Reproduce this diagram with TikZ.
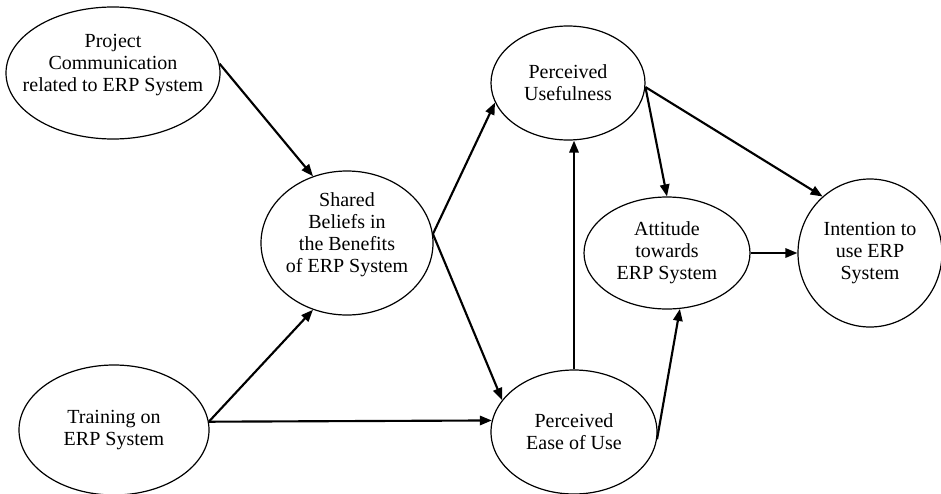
\documentclass[tikz,border=0pt]{standalone}
\usepackage{fontspec}
\setmainfont{Liberation Serif}
\usetikzlibrary{shapes.geometric,arrows.meta}

\begin{document}
\begin{tikzpicture}[x=0.75pt, y=-0.75pt,
  construct/.style={draw, ellipse, line width=0.9pt, inner sep=-30pt, align=center,
    font=\fontsize{15pt}{16.5pt}\selectfont},
  link/.style={-{Triangle[length=9pt,width=7pt]}, line width=1.6pt}]
  \useasboundingbox (0,0) rectangle (941,493);

  % Nodes
  \node[construct, minimum width=160.5pt, minimum height=99pt, text depth=15pt] (comm) at (113,73) {Project\\Communication\\related to ERP System};
  \node[construct, minimum width=129pt, minimum height=108pt, text depth=16pt] (shared) at (347,243) {Shared\\Beliefs in\\the Benefits\\of ERP System};
  \node[construct, minimum width=142.5pt, minimum height=97.5pt] (train) at (114,430) {Training on\\ERP System};
  \node[construct, minimum width=115.5pt, minimum height=85.5pt] (useful) at (568,83) {Perceived\\Usefulness};
  \node[construct, minimum width=124.5pt, minimum height=93pt] (ease) at (574,432) {Perceived\\Ease of Use};
  \node[construct, minimum width=124.5pt, minimum height=84pt] (attitude) at (667,253) {Attitude\\towards\\ERP System};
  \node[construct, minimum width=108pt, minimum height=111pt] (intention) at (870,253) {Intention to\\use ERP\\System};

  % Edges
  \draw[link] (comm.5) -- (shared.117);
  \draw[link] (train.5) -- (shared.243);
  \draw[link] (train.5) -- (ease.172);
  \draw[link] (shared.6) -- (useful.195);
  \draw[link] (shared.6) -- (ease.156);
  \draw[link] (ease.north) -- (ease.north |- useful.south);
  \draw[link] (ease.-5) -- (attitude.-77);
  \draw[link] (useful.-3) -- (attitude.north);
  \draw[link] (useful.-3) -- (intention.130);
  \draw[link] (attitude.east) -- (intention.west);
\end{tikzpicture}
\end{document}
